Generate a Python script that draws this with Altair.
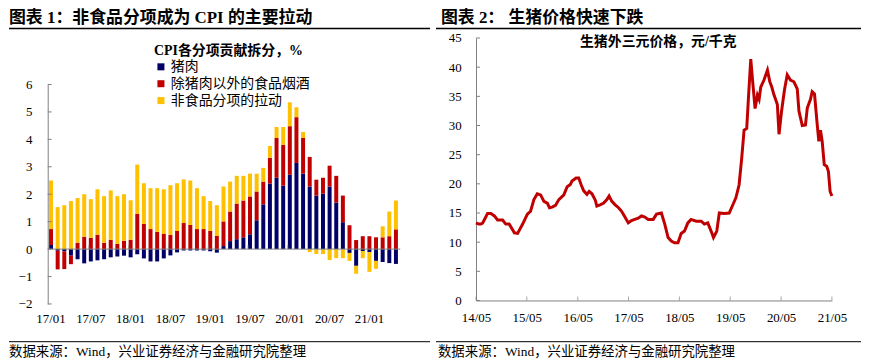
import altair as alt
import pandas as pd

# ---------------- Left chart data (CPI contribution, %) ----------------
months = [f"{y:02d}/{m:02d}" for y in range(17, 22) for m in range(1, 13)][:53]
left_tick_labels = ["17/01", "17/07", "18/01", "18/07", "19/01", "19/07", "20/01", "20/07", "21/01"]
series_names = ["猪肉", "除猪肉以外的食品烟酒", "非食品分项的拉动"]
series_colors = ["#000066", "#C00000", "#FFC000"]

pork = [0.15, -0.06, -0.08, -0.24, -0.37, -0.52, -0.45, -0.41, -0.37, -0.30, -0.27, -0.24,
        -0.30, -0.19, -0.34, -0.45, -0.45, -0.34, -0.23, -0.12, -0.05, -0.05, -0.05, -0.05,
        -0.08, -0.13, 0.11, 0.29, 0.36, 0.43, 0.54, 1.05, 1.63, 2.39, 2.60, 2.31,
        2.71, 3.14, 2.75, 2.28, 1.95, 2.02, 2.28, 1.70, 0.98, -0.14, -0.61, -0.07,
        -0.11, -0.43, -0.47, -0.51, -0.54]
food_ex_pork = [0.58, -0.68, -0.65, -0.31, 0.23, 0.45, 0.41, 0.52, 0.23, 0.34, 0.19, 0.30,
                0.34, 1.28, 0.92, 0.73, 0.63, 0.55, 0.52, 0.66, 0.95, 0.88, 0.73, 0.73,
                0.66, 0.48, 0.90, 1.08, 1.30, 1.34, 1.38, 1.05, 0.83, 0.94, 1.45, 1.49,
                1.77, 1.67, 1.30, 1.08, 0.58, 0.58, 0.76, 0.97, 0.97, 0.87, 0.33, 0.47,
                0.47, 0.43, 0.43, 0.47, 0.72]
non_food = [1.77, 1.53, 1.60, 1.75, 1.63, 1.55, 1.41, 1.66, 1.70, 1.80, 1.74, 1.70,
            1.44, 1.80, 1.48, 1.49, 1.59, 1.63, 1.81, 1.74, 1.59, 1.62, 1.49, 1.20,
            1.09, 1.12, 1.27, 1.09, 1.01, 0.90, 0.83, 0.65, 0.50, 0.43, 0.40, 0.65,
            0.87, 0.36, 0.22, -0.11, -0.18, -0.18, -0.40, -0.33, -0.33, -0.29, -0.29, -0.26,
            -0.72, -0.29, 0.40, 0.90, 1.05]
left_y_ticks = [-2, -1, 0, 1, 2, 3, 4, 5, 6]

# ---------------- Right chart data (pig price, yuan/kg) ----------------
pig_dates = [
    "2014/05/01", "2014/05/20", "2014/06/06", "2014/06/18", "2014/07/23", "2014/08/16", "2014/09/10",
    "2014/10/03", "2014/11/08", "2014/12/01", "2014/12/25", "2015/02/01", "2015/02/24", "2015/04/01",
    "2015/05/05", "2015/05/28", "2015/06/21", "2015/07/15", "2015/08/08", "2015/09/01", "2015/09/25",
    "2015/10/11", "2015/10/30", "2015/11/23", "2015/12/17", "2016/01/22", "2016/02/15", "2016/03/09",
    "2016/03/21", "2016/04/19", "2016/05/08", "2016/05/26", "2016/06/13", "2016/07/06", "2016/07/22",
    "2016/08/11", "2016/09/04", "2016/09/15", "2016/10/09", "2016/11/03", "2016/11/26", "2016/12/12",
    "2017/01/01", "2017/01/25", "2017/02/18", "2017/03/12", "2017/04/05", "2017/04/29", "2017/05/22",
    "2017/06/15", "2017/07/09", "2017/08/02", "2017/08/26", "2017/09/19", "2017/10/25", "2017/11/18",
    "2017/12/23", "2018/01/16", "2018/02/09", "2018/03/04", "2018/03/27", "2018/04/21", "2018/05/14",
    "2018/06/07", "2018/07/01", "2018/07/24", "2018/08/30", "2018/10/05", "2018/10/28", "2018/11/21",
    "2018/12/15", "2019/01/01", "2019/01/25", "2019/02/12", "2019/03/18", "2019/04/24", "2019/05/22",
    "2019/06/11", "2019/07/04", "2019/07/23", "2019/08/09", "2019/08/28", "2019/09/09", "2019/09/26",
    "2019/10/08", "2019/10/27", "2019/11/13", "2019/11/25", "2019/12/07", "2019/12/30", "2020/01/24",
    "2020/02/10", "2020/02/24", "2020/03/10", "2020/04/04", "2020/04/16", "2020/05/04", "2020/05/25",
    "2020/06/14", "2020/07/07", "2020/08/01", "2020/08/25", "2020/09/06", "2020/09/30", "2020/10/23",
    "2020/11/05", "2020/11/28", "2020/12/10", "2020/12/27", "2021/01/15", "2021/01/27", "2021/02/08",
    "2021/02/20", "2021/03/07", "2021/03/25", "2021/04/06", "2021/04/18", "2021/05/01",
]
pig_price = [
    13.3, 13.1, 13.1, 13.3, 14.9, 14.9, 14.5,
    13.8, 13.8, 13.1, 13.1, 11.6, 11.5, 13.1,
    14.8, 15.3, 17.3, 18.3, 18.1, 17.0, 16.7,
    15.9, 16.0, 16.3, 17.3, 18.1, 19.5, 19.9,
    20.5, 21.0, 21.0, 19.8, 18.8, 18.2, 18.7,
    18.3, 17.2, 16.2, 16.4, 16.7, 17.3, 17.9,
    17.0, 16.4, 15.9, 15.3, 14.3, 13.3, 13.7,
    13.9, 14.1, 14.5, 14.3, 13.9, 13.9, 14.8,
    15.0, 13.1, 10.8, 10.2, 9.9, 9.9, 11.5,
    11.9, 13.3, 13.9, 13.6, 13.6, 13.1, 13.3,
    11.9, 10.8, 11.9, 15.0, 14.9, 15.0, 16.5,
    17.6, 19.8, 24.4, 29.2, 29.5, 34.6, 41.4,
    38.0, 32.9, 35.2, 34.5, 36.6, 37.8, 39.5,
    37.5, 36.6, 35.3, 33.6, 28.5, 32.4, 36.1,
    38.7, 37.8, 37.5, 36.3, 32.5, 30.0, 30.1,
    33.0, 34.5, 35.8, 35.4, 30.3, 27.3, 29.2,
    27.3, 23.3, 23.0, 22.1, 18.7, 17.9,
]
right_x_years = [2014, 2015, 2016, 2017, 2018, 2019, 2020, 2021]
right_y_ticks = [0, 5, 10, 15, 20, 25, 30, 35, 40, 45]

title_left = "图表 1：非食品分项成为 CPI 的主要拉动"
title_right = "图表 2：  生猪价格快速下跌"
source_text = "数据来源：Wind，兴业证券经济与金融研究院整理"
legend_title = "CPI各分项贡献拆分，%"
right_inner_title = "生猪外三元价格，元/千克"

# ---------------- styling ----------------
SERIF = "Liberation Serif, Noto Sans CJK SC"
CJK = "Noto Sans CJK SC"
GRAY = "#808080"
W1, W2, H = 354, 358.4, 264.3

# ---------------- Left chart ----------------
rows = []
for i, m in enumerate(months):
    rows.append({"month": m, "series": series_names[0], "value": pork[i], "ord": 0})
    rows.append({"month": m, "series": series_names[1], "value": food_ex_pork[i], "ord": 1})
    rows.append({"month": m, "series": series_names[2], "value": non_food[i], "ord": 2})
df_bars = pd.DataFrame(rows)

yscale_left = alt.Scale(domain=[-2, 6], range=[267.8, 46.8], nice=False, zero=False)
xscale_left = alt.Scale(domain=months, paddingInner=0.4, paddingOuter=0.2)

x_axis_left = alt.Axis(values=left_tick_labels, labelAngle=0, domain=False, ticks=False,
                       tickSize=0, labelPadding=12, labelFont=SERIF, labelFontSize=13,
                       labelColor="black", title="", grid=False)
y_axis_left = alt.Axis(values=left_y_ticks, ticks=False, tickSize=0, labelPadding=16,
                       labelFont=SERIF, labelFontSize=13, labelColor="black",
                       domainColor=GRAY, title="", grid=False)

bars = alt.Chart(df_bars).mark_bar().encode(
    x=alt.X("month:N", sort=months, scale=xscale_left, axis=x_axis_left),
    y=alt.Y("value:Q", scale=yscale_left, stack="zero", axis=y_axis_left),
    color=alt.Color("series:N", scale=alt.Scale(domain=series_names, range=series_colors),
                    legend=alt.Legend(title=legend_title, orient="none", legendX=107, legendY=6,
                                      direction="vertical", symbolType="square", symbolSize=50,
                                      symbolStrokeWidth=0, labelFontSize=14, labelFont=CJK,
                                      labelColor="black", titleFontSize=14, titleFont=SERIF,
                                      titleFontWeight="bold", titleColor="black", rowPadding=3,
                                      titlePadding=2, labelOffset=3)),
    order=alt.Order("ord:Q"),
)

zero_line = alt.Chart(pd.DataFrame({"value": [0]})).mark_rule(color=GRAY, strokeWidth=1).encode(
    y=alt.Y("value:Q", scale=yscale_left, axis=y_axis_left), x=alt.value(0), x2=alt.value(W1 + 1)
)
zero_ticks = alt.Chart(pd.DataFrame({"month": left_tick_labels, "value": [0] * len(left_tick_labels)})).mark_tick(
    orient="vertical", size=4, thickness=1, yOffset=-2, color=GRAY
).encode(
    x=alt.X("month:N", sort=months, scale=xscale_left, bandPosition=0, axis=x_axis_left),
    y=alt.Y("value:Q", scale=yscale_left, axis=y_axis_left),
)
left_yticks = alt.Chart(pd.DataFrame({"value": left_y_ticks})).mark_rule(color=GRAY).encode(
    y=alt.Y("value:Q", scale=yscale_left, axis=y_axis_left), x=alt.value(0), x2=alt.value(4)
)


def text_layer(txt, x, y, size, weight="normal", baseline="middle", font=SERIF):
    return alt.Chart(pd.DataFrame({"t": [txt]})).mark_text(
        align="left", baseline=baseline, fontSize=size, fontWeight=weight, font=font, color="black"
    ).encode(text="t:N", x=alt.value(x), y=alt.value(y))


def hline(x1, x2, y, width):
    return alt.Chart(pd.DataFrame({"a": [0]})).mark_rule(color="black", strokeWidth=width).encode(
        x=alt.value(x1), x2=alt.value(x2), y=alt.value(y)
    )


left = alt.layer(
    bars, zero_line, zero_ticks, left_yticks,
    text_layer(title_left, -39, -27.7, 17, "bold", "top"),
    hline(-39, 385, -9.7, 1.5),
    hline(-39, 385, 305.8, 1),
    text_layer(source_text, -39, 316.3, 13.5),
).properties(width=W1, height=H)

# ---------------- Right chart ----------------
df_pig = pd.DataFrame({"date": pig_dates, "price": pig_price})
xscale_right = alt.Scale(domain=[alt.DateTime(year=2014, month=5, date=1),
                                 alt.DateTime(year=2021, month=5, date=1)])
yscale_right = alt.Scale(domain=[0, 45], nice=False)
tick_dates = [alt.DateTime(year=y, month=5, date=1) for y in right_x_years]

x_axis_right = alt.Axis(values=tick_dates, format="%y/%m", ticks=False, tickSize=0, labelPadding=11,
                        labelFont=SERIF, labelFontSize=13, labelColor="black", domainColor=GRAY,
                        title="", grid=False, labelOverlap=False, labelFlush=False)
y_axis_right = alt.Axis(values=right_y_ticks, ticks=False, tickSize=0, labelPadding=15,
                        labelFont=SERIF, labelFontSize=13, labelColor="black", domainColor=GRAY,
                        title="", grid=False)

line = alt.Chart(df_pig).mark_line(color="#C00000", strokeWidth=3).encode(
    x=alt.X("date:T", scale=xscale_right, axis=x_axis_right),
    y=alt.Y("price:Q", scale=yscale_right, axis=y_axis_right),
)
df_xt = pd.DataFrame({"date": [f"{y}/05/01" for y in right_x_years], "price": [0] * len(right_x_years)})
right_xticks = alt.Chart(df_xt).mark_tick(orient="vertical", size=4, thickness=1, yOffset=-2, color=GRAY).encode(
    x=alt.X("date:T", scale=xscale_right, axis=x_axis_right),
    y=alt.Y("price:Q", scale=yscale_right, axis=y_axis_right),
)
right_yticks = alt.Chart(pd.DataFrame({"price": right_y_ticks})).mark_rule(color=GRAY).encode(
    y=alt.Y("price:Q", scale=yscale_right, axis=y_axis_right), x=alt.value(0), x2=alt.value(4)
)

right = alt.layer(
    line, right_xticks, right_yticks,
    text_layer(right_inner_title, 104.7, 4.3, 14, "bold"),
    text_layer(title_right, -35.3, -27.7, 17, "bold", "top"),
    hline(-40.3, 387.7, -9.7, 1.5),
    hline(-40.3, 387.7, 305.8, 1),
    text_layer(source_text, -38.3, 316.3, 13.5),
).properties(width=W2, height=H)

chart = alt.HConcatChart(hconcat=[left, right], spacing=77.3, bounds="flush").properties(
    padding=0, background="white"
).configure_view(strokeWidth=0)

chart.save("out.html", embed_options={"renderer": "svg", "actions": False})
